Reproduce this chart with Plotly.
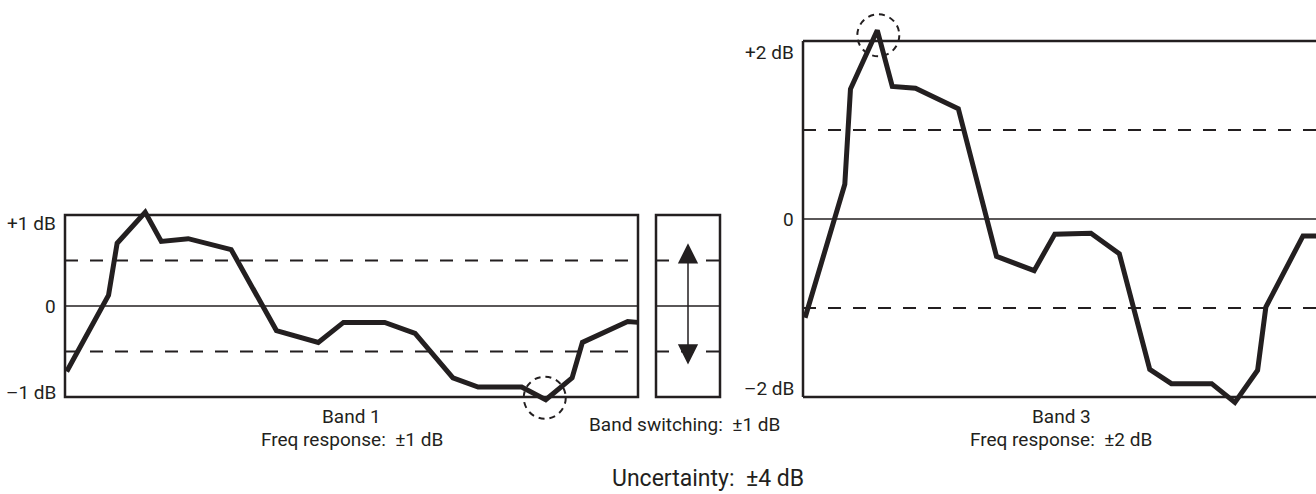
import plotly.graph_objects as go

# ---------------- data ----------------
band1_x = [0.3, 7.6, 9.1, 14.0, 16.8, 21.5, 29.0, 36.9, 44.2, 48.6,
           55.8, 61.1, 67.7, 72.1, 79.7, 83.9, 88.5, 90.3, 98.2, 100.0]
band1_db = [-0.72, 0.12, 0.69, 1.03, 0.71, 0.74, 0.62, -0.27, -0.40, -0.18,
            -0.18, -0.30, -0.79, -0.89, -0.89, -1.03, -0.79, -0.40, -0.17, -0.18]

band3_x = [0.4, 8.1, 9.2, 14.4, 17.3, 21.8, 30.1, 37.5, 44.8, 48.8,
           55.8, 61.3, 67.2, 71.4, 79.2, 83.7, 88.1, 89.7, 96.9, 100.0]
band3_db = [-1.11, 0.39, 1.46, 2.12, 1.49, 1.47, 1.24, -0.42, -0.58, -0.17,
            -0.16, -0.39, -1.69, -1.85, -1.85, -2.06, -1.70, -0.99, -0.19, -0.19]

band1_limit = 1.0
band3_limit = 2.0
switch_limit = 1.0
switch_arrow = [0.69, -0.66]

band1_ticks = ["+1 dB", "0", "\u20131 dB"]
band3_ticks = ["+2 dB", "0", "\u20132 dB"]
band1_labels = ["Band 1", "Freq response:\u00a0 \u00b11 dB"]
band3_labels = ["Band 3", "Freq response:\u00a0 \u00b12 dB"]
switch_label = "Band switching:\u00a0 \u00b11 dB"
total_label = "Uncertainty:\u00a0 \u00b14 dB"

# ---------------- layout helpers ----------------
W, H = 1316, 494
INK = "#231f20"
FONT = "Roboto, Liberation Sans Narrow, DejaVu Sans Condensed, sans-serif"
FS = 19


def axes_for(box, xr, lim, dom):
    """box: panel frame in px; xr: data x at frame left/right; lim: +-y at frame;
    dom: (left, right, top, bottom) px of the subplot domain."""
    l, r, t, b = box
    dl, dr, dt, db = dom
    sx = (xr[1] - xr[0]) / (r - l)
    sy = 2 * lim / (b - t)
    xrange = [xr[0] + (dl - l) * sx, xr[0] + (dr - l) * sx]
    yrange = [-lim - (db - b) * sy, lim + (t - dt) * sy]
    xdom = [dl / W, dr / W]
    ydom = [1 - db / H, 1 - dt / H]
    return xrange, yrange, xdom, ydom


P1 = (65, 638, 215, 397)
PS = (656, 720, 215, 397)
P3 = (803, 1319, 41, 397)

x1r, y1r, x1d, y1d = axes_for(P1, (0, 100), band1_limit, (50, 648, 180, 430))
x2r, y2r, x2d, y2d = axes_for(PS, (0, 1), switch_limit, (650, 728, 200, 410))
x3r, y3r, x3d, y3d = axes_for(P3, (0, 100), band3_limit, (790, 1316, 0, 440))

fig = go.Figure()
fig.add_trace(go.Scatter(x=band1_x, y=band1_db, mode="lines",
                         line=dict(color=INK, width=5),
                         xaxis="x", yaxis="y", hoverinfo="skip", showlegend=False))
fig.add_trace(go.Scatter(x=[], y=[], mode="lines", xaxis="x2", yaxis="y2",
                         hoverinfo="skip", showlegend=False))
fig.add_trace(go.Scatter(x=band3_x, y=band3_db, mode="lines",
                         line=dict(color=INK, width=5),
                         xaxis="x3", yaxis="y3", hoverinfo="skip", showlegend=False))

shapes = []
FRAME = dict(color=INK, width=2.5)
ZERO = dict(color=INK, width=1.6)
DASH = dict(color=INK, width=2, dash="13px,12px")


def hline(xa, ya, x0, x1, y, line):
    shapes.append(dict(type="line", xref=xa, yref=ya, x0=x0, x1=x1, y0=y, y1=y,
                       line=line, layer="below"))


# Band 1 panel
shapes.append(dict(type="rect", xref="x", yref="y", x0=0, x1=100,
                   y0=-band1_limit, y1=band1_limit, line=FRAME, layer="below"))
hline("x", "y", 0, 100, 0, ZERO)
hline("x", "y", 0, 100, band1_limit / 2, DASH)
hline("x", "y", 0, 100, -band1_limit / 2, DASH)

# Band switching box
shapes.append(dict(type="rect", xref="x2", yref="y2", x0=0, x1=1,
                   y0=-switch_limit, y1=switch_limit, line=FRAME, layer="below"))
hline("x2", "y2", 0, 1, 0, ZERO)
hline("x2", "y2", 0, 1, switch_limit / 2, DASH)
hline("x2", "y2", 0, 1, -switch_limit / 2, DASH)

# Band 3 panel (right edge runs off the picture)
hline("x3", "y3", 0, 100, band3_limit, FRAME)
hline("x3", "y3", 0, 100, -band3_limit, FRAME)
shapes.append(dict(type="line", xref="x3", yref="y3", x0=0, x1=0,
                   y0=-band3_limit, y1=band3_limit, line=FRAME, layer="below"))
shapes.append(dict(type="line", xref="x3", yref="y3", x0=100, x1=100,
                   y0=-band3_limit, y1=band3_limit, line=FRAME, layer="below"))
hline("x3", "y3", 0, 100, 0, ZERO)
hline("x3", "y3", 0, 100, band3_limit / 2, DASH)
hline("x3", "y3", 0, 100, -band3_limit / 2, DASH)

# dashed circles around the extremes
i1 = band1_db.index(min(band1_db))
i3 = band3_db.index(max(band3_db))
CIRC = dict(color=INK, width=2, dash="6px,5px")
shapes.append(dict(type="circle", xref="x", yref="y", xsizemode="pixel", ysizemode="pixel",
                   xanchor=band1_x[i1], yanchor=band1_db[i1],
                   x0=-22, x1=20, y0=-19, y1=23, line=CIRC))
shapes.append(dict(type="circle", xref="x3", yref="y3", xsizemode="pixel", ysizemode="pixel",
                   xanchor=band3_x[i3], yanchor=band3_db[i3],
                   x0=-20, x1=22, y0=-26, y1=16, line=CIRC))

annotations = []


def text(x_px, y_px, s, size=FS, xanchor="center"):
    annotations.append(dict(x=x_px / W, y=1 - y_px / H, xref="paper", yref="paper",
                            text=s, showarrow=False, xanchor=xanchor, yanchor="middle",
                            font=dict(family=FONT, size=size, color=INK)))


# tick labels
for lab, val, shift in zip(band1_ticks, [band1_limit, 0, -band1_limit], [-8, 0, 5]):
    annotations.append(dict(x=(P1[0] - 7) / W, xref="paper", y=val, yref="y", yshift=shift,
                            text=lab, showarrow=False, xanchor="right", yanchor="middle",
                            font=dict(family=FONT, size=FS, color=INK)))
for lab, val, shift in zip(band3_ticks, [band3_limit, 0, -band3_limit], [-11, 0, 9]):
    annotations.append(dict(x=(P3[0] - 7) / W, xref="paper", y=val, yref="y3", yshift=shift,
                            text=lab, showarrow=False, xanchor="right", yanchor="middle",
                            font=dict(family=FONT, size=FS, color=INK)))

c1 = (P1[0] + P1[1]) / 2
c3 = (P3[0] + P3[1]) / 2
text(c1, 416, band1_labels[0])
text(c1, 439, band1_labels[1])
text(684, 424, switch_label)
text(c3, 416, band3_labels[0])
text(c3, 439, band3_labels[1])
text(708, 478, total_label, size=23)

# double-headed arrow in band switching box
annotations.append(dict(x=0.5, y=switch_arrow[0], ax=0.5, ay=switch_arrow[1],
                        xref="x2", yref="y2", axref="x2", ayref="y2", text="",
                        showarrow=True, arrowhead=2, startarrowhead=2, arrowside="end+start",
                        arrowwidth=1.5, arrowsize=2.7, startarrowsize=2.7, arrowcolor=INK,
                        standoff=0, startstandoff=0))

noax = dict(visible=False, showgrid=False, zeroline=False, fixedrange=True)
fig.update_layout(
    width=W, height=H, autosize=False,
    margin=dict(l=0, r=0, t=0, b=0),
    paper_bgcolor="white", plot_bgcolor="rgba(0,0,0,0)",
    showlegend=False,
    xaxis=dict(domain=x1d, range=x1r, anchor="y", **noax),
    yaxis=dict(domain=y1d, range=y1r, anchor="x", **noax),
    xaxis2=dict(domain=x2d, range=x2r, anchor="y2", **noax),
    yaxis2=dict(domain=y2d, range=y2r, anchor="x2", **noax),
    xaxis3=dict(domain=x3d, range=x3r, anchor="y3", **noax),
    yaxis3=dict(domain=y3d, range=y3r, anchor="x3", **noax),
    shapes=shapes,
    annotations=annotations,
)

fig.write_html("out.html", config={"displayModeBar": False},
               post_script="document.body.style.margin='0px';document.body.style.overflow='hidden';")
